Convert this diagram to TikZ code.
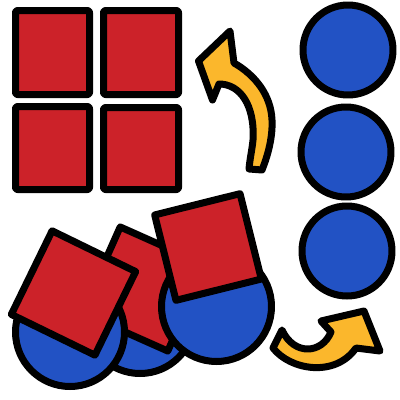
\documentclass[tikz,border=0pt]{standalone}
\definecolor{myred}{RGB}{204,34,41}
\definecolor{myblue}{RGB}{34,82,196}
\definecolor{myorange}{RGB}{251,183,44}
\begin{document}
\begin{tikzpicture}[x=1pt,y=-1pt, line width=7pt, line join=round,
 sq/.style={draw=black, fill=myred, rectangle, inner sep=0pt, outer sep=0pt, rounded corners=2pt},
 rsq/.style={draw=black, fill=myred, rectangle, inner sep=0pt, outer sep=0pt},
 blob/.style={draw=black, fill=myblue, circle, inner sep=0pt, outer sep=0pt},
 arr/.style={draw=black, fill=myorange, line join=round}]
\useasboundingbox (0,0) rectangle (400,400);
% top-left grid of red rectangles
\node[sq, minimum width=74pt, minimum height=84pt] (s1) at (52.5,52.5) {};
\node[sq, minimum width=75pt, minimum height=84pt] (s2) at (141,52.5) {};
\node[sq, minimum width=74pt, minimum height=83pt] (s3) at (52.5,148) {};
\node[sq, minimum width=75pt, minimum height=82pt] (s4) at (141,148.5) {};
% right column of blue circles
\node[blob, minimum size=90pt] (c1) at (348,50) {};
\node[blob, minimum size=90pt] (c2) at (346,152) {};
\node[blob, minimum size=90pt] (c3) at (347,251) {};
% bottom cluster
\node[blob, minimum size=109pt] (mc) at (140,319) {};
\node[rsq, minimum size=94pt, rotate=-24] (ms) at (144,289) {};
\node[blob, minimum size=109pt] (lc) at (70,332) {};
\node[rsq, minimum size=93pt, rotate=-26] (ls) at (73.5,293) {};
\node[blob, minimum size=110pt] (rc) at (216.5,306.5) {};
\node[rsq, minimum size=88pt, rotate=14] (rs) at (208,247) {};
% top curved arrow
\draw[arr] (230,31) -- (198.5,61) -- (212.5,100) -- (219,84)
  .. controls (240,84) and (255,105) .. (253,140)
  .. controls (252,150) and (250,158) .. (249,169) -- (262,170)
  .. controls (266,160) and (273,140) .. (272,120)
  .. controls (271,95) and (255,75) .. (234,63) -- cycle;
% bottom curved arrow
\draw[arr] (282,330) -- (273,348)
  .. controls (290,370) and (335,378) .. (356,348) -- (380,351) -- (364,311)
  -- (321,321) -- (331,332)
  .. controls (322,354) and (294,356) .. cycle;
\end{tikzpicture}
\end{document}
